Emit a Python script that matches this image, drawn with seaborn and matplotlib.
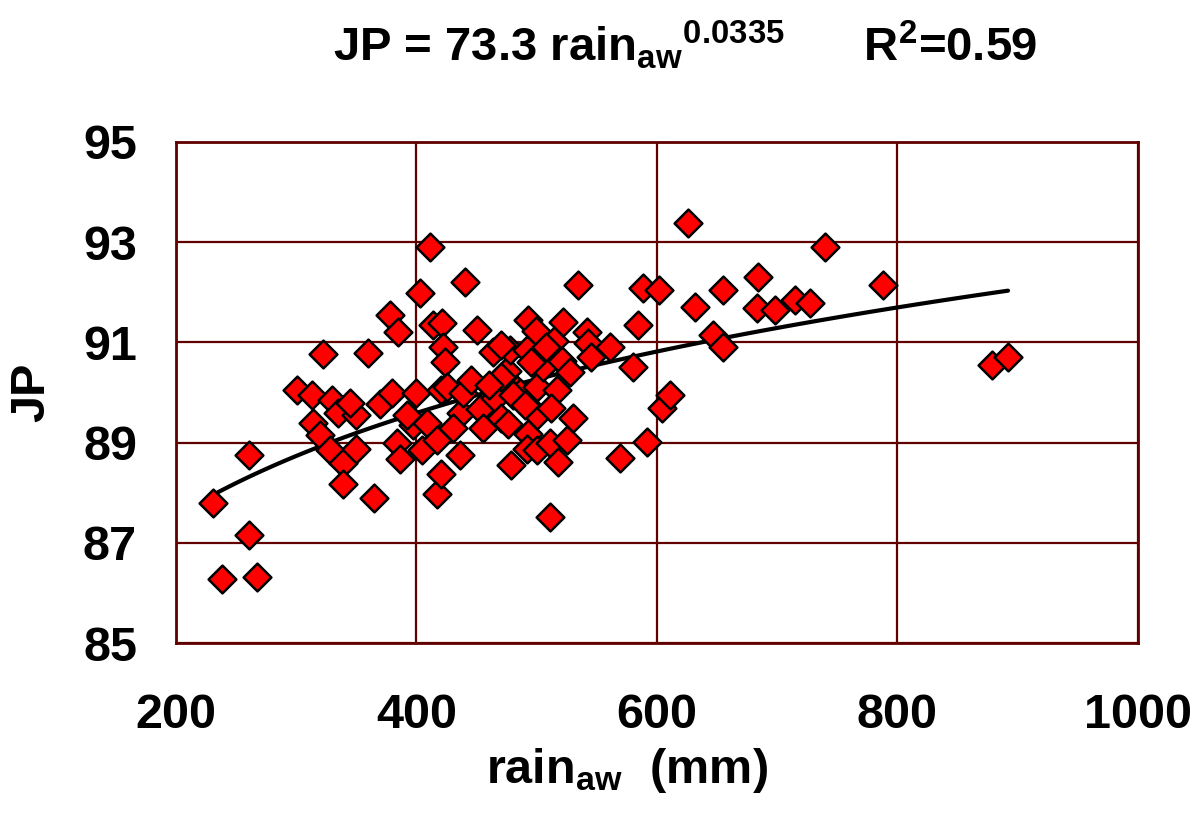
import numpy as np
import pandas as pd
import seaborn as sns
import matplotlib
matplotlib.use("Agg")
import matplotlib.pyplot as plt

# annual-weighted rainfall (mm) and JP
rain = [231, 238, 261, 267, 261, 301, 313, 314, 320, 322,
        328, 330, 335, 339, 339, 350, 350, 360, 365, 370,
        378, 380, 384, 385, 386, 397, 400, 403, 405, 409,
        411, 414, 417, 417, 420, 421, 420, 422, 424, 425,
        436, 437, 439, 440, 445, 450, 453, 464, 465, 470,
        475, 476, 478, 479, 484, 486, 492, 493, 493, 492,
        499, 500, 500, 500, 505, 511, 511, 514, 517, 518,
        521, 522, 525, 530, 534, 542, 543, 561, 569, 580,
        584, 588, 592, 602, 604, 611, 626, 632, 647, 655,
        655, 683, 684, 698, 715, 727, 740, 788, 879, 892,
        470, 480, 495, 508, 460, 430, 528, 545, 490, 512,
        392, 345, 455, 470]
jp = [87.80, 86.28, 87.15, 86.32, 88.75, 90.05, 89.95, 89.40, 89.15, 90.77,
      88.85, 89.85, 89.60, 88.60, 88.18, 89.55, 88.88, 90.79, 87.90, 89.78,
      91.55, 90.00, 89.00, 91.20, 88.67, 89.35, 90.00, 91.98, 88.85, 89.40,
      92.90, 91.35, 89.05, 87.98, 88.38, 91.39, 90.05, 90.90, 90.60, 90.10,
      88.75, 89.60, 90.00, 92.20, 90.25, 91.25, 89.67, 90.80, 89.90, 89.50,
      90.43, 89.38, 90.85, 88.55, 90.05, 90.00, 90.85, 91.45, 89.18, 88.88,
      91.22, 90.10, 89.55, 88.85, 90.50, 89.00, 87.52, 91.03, 90.05, 88.62,
      90.63, 91.40, 89.05, 89.50, 92.15, 91.20, 90.98, 90.90, 88.69, 90.51,
      91.35, 92.09, 89.01, 92.05, 89.69, 89.95, 93.38, 91.71, 91.15, 92.05,
      90.91, 91.69, 92.30, 91.65, 91.85, 91.79, 92.90, 92.15, 90.55, 90.71,
      90.30, 89.95, 90.60, 90.90, 90.15, 89.30, 90.40, 90.70, 89.75, 89.70,
      89.55, 89.80, 89.30, 90.95]

# power trend line given in the title: JP = a * rain^b
coef_a = 73.3
coef_b = 0.0335
r2 = 0.59

x_ticks = [200, 400, 600, 800, 1000]
y_ticks = [85, 87, 89, 91, 93, 95]

df = pd.DataFrame({"rain": rain, "jp": jp})
xs = np.linspace(min(rain), max(rain), 100)
trend = pd.DataFrame({"rain": xs, "jp": coef_a * xs ** coef_b})

sns.set_theme(style="white")
plt.rcParams["font.family"] = ["Liberation Sans", "DejaVu Sans"]
plt.rcParams["font.weight"] = "bold"
plt.rcParams["text.color"] = "black"
plt.rcParams["axes.labelcolor"] = "black"
plt.rcParams["xtick.color"] = "black"
plt.rcParams["ytick.color"] = "black"
plt.rcParams["mathtext.fontset"] = "custom"
plt.rcParams["mathtext.rm"] = "Liberation Sans:bold"
plt.rcParams["mathtext.it"] = "Liberation Sans:bold"
plt.rcParams["mathtext.bf"] = "Liberation Sans:bold"

grid_col = "#600000"

fig = plt.figure(figsize=(11.99, 8.15), dpi=100)
ax = fig.add_axes([0.1468, 0.211, 0.8022, 0.6148])

sns.lineplot(data=trend, x="rain", y="jp", color="black", lw=3, ax=ax, zorder=3)
sns.scatterplot(data=df, x="rain", y="jp", marker="D", s=200, color="#ff0000",
                edgecolor="black", linewidth=1.8, ax=ax, zorder=4)

ax.set_xlim(200, 1000)
ax.set_ylim(85, 95)
ax.set_xticks(x_ticks)
ax.set_yticks(y_ticks)
ax.grid(True, color=grid_col, lw=1.6)
ax.set_axisbelow(True)
for side, sp in ax.spines.items():
    sp.set_color(grid_col)
    sp.set_linewidth(2)
ax.tick_params(axis="x", length=0, pad=36, labelsize=35)
ax.tick_params(axis="y", length=0, pad=28, labelsize=35)
for lab in ax.get_xticklabels() + ax.get_yticklabels():
    lab.set_fontweight("bold")

ax.set_xlabel("rain$_{aw}$  (mm)", fontsize=35, fontweight="bold", va="center")
ax.xaxis.set_label_coords(0.469, -0.255)
ax.set_ylabel("JP", fontsize=35, fontweight="bold", va="center")
ax.yaxis.set_label_coords(-0.15, 0.5)

fig.text(0.571, 0.945,
         f"JP = {coef_a} rain$_{{aw}}{{}}^{{{coef_b}}}$      R$^{{2}}$={r2}",
         ha="center", va="center", fontsize=34, fontweight="bold")

fig.savefig("out.png", dpi=100)
